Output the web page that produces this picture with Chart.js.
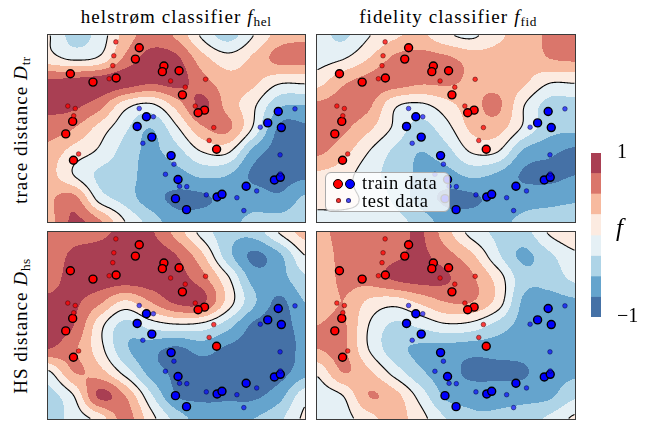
<!DOCTYPE html>
<html>
<head>
<meta charset="utf-8">
<script src="https://cdn.jsdelivr.net/npm/chart.js@4.4.1/dist/chart.umd.min.js"></script>
<style>
body { margin: 0; background: #fff; }
#fig { position: relative; width: 646px; height: 422px; overflow: hidden; font-family: "Liberation Serif", serif; color: #000; }
canvas { position: absolute; }
.title { position: absolute; top: 5px; font-size: 19px; letter-spacing: 1.1px; line-height: 24px; white-space: nowrap; transform: translateX(-50%); }
.rowlab { position: absolute; font-size: 19px; letter-spacing: 1px; line-height: 24px; white-space: nowrap; transform: translate(-50%, -50%) rotate(-90deg); }
sub { font-size: 70%; letter-spacing: 0.5px; vertical-align: -0.25em; line-height: 0; }
#legend { position: absolute; left: 325px; top: 172px; width: 123px; height: 38px; border: 1px solid #aaa; border-radius: 6px; background: rgba(255,255,255,0.8); font-size: 18.5px; letter-spacing: 0.6px; }
#legend .row { position: absolute; left: 36px; line-height: 18px; }
#legend .dot { position: absolute; border-radius: 50%; box-sizing: border-box; }
#flab { position: absolute; left: 616px; top: 214px; font-size: 25px; font-style: italic; }
</style>
</head>
<body>
<div id="fig">
  <div class="title" style="left:176px">helstrøm classifier <i>f</i><sub>hel</sub></div>
  <div class="title" style="left:448px">fidelity classifier <i>f</i><sub>fid</sub></div>
  <div class="rowlab" style="left:21px;top:130px">trace distance <i>D</i><sub>tr</sub></div>
  <div class="rowlab" style="left:21px;top:326px">HS distance <i>D</i><sub>hs</sub></div>
  <canvas id="p1"></canvas>
  <canvas id="p2"></canvas>
  <canvas id="p3"></canvas>
  <canvas id="p4"></canvas>
  <canvas id="cbar"></canvas>
  <div id="flab">f</div>
  <div id="legend">
    <span class="dot" style="left:7px;top:6px;width:10px;height:10px;background:#f00;border:1.4px solid #000"></span>
    <span class="dot" style="left:19px;top:6px;width:10px;height:10px;background:#00f;border:1.4px solid #000"></span>
    <span class="dot" style="left:10px;top:25px;width:5px;height:5px;background:rgba(255,0,0,0.8);border:0.8px solid rgba(0,0,0,0.5)"></span>
    <span class="dot" style="left:20px;top:25px;width:5px;height:5px;background:rgba(0,0,255,0.7);border:0.8px solid rgba(0,0,0,0.5)"></span>
    <div class="row" style="top:1px">train data</div>
    <div class="row" style="top:19px">test data</div>
  </div>
</div>
<script>
// data points (same in all four panels), x and y in [0, 1]
const trainRedX = [0.355, 0.340, 0.451, 0.445, 0.510, 0.087, 0.175, 0.265, 0.523, 0.609, 0.584, 0.096, 0.069, 0.099, 0.656];
const trainRedY = [0.932, 0.871, 0.834, 0.804, 0.809, 0.793, 0.748, 0.770, 0.680, 0.598, 0.584, 0.538, 0.471, 0.330, 0.389];
const testRedX = [0.264, 0.256, 0.252, 0.238, 0.477, 0.534, 0.613, 0.077, 0.106, 0.100, 0.119, 0.573, 0.645, 0.627];
const testRedY = [0.963, 0.889, 0.836, 0.766, 0.754, 0.721, 0.763, 0.620, 0.607, 0.568, 0.364, 0.620, 0.505, 0.436];
const trainBlueX = [0.383, 0.347, 0.404, 0.896, 0.855, 0.908, 0.479, 0.506, 0.496, 0.539, 0.658, 0.677, 0.771, 0.881, 0.904];
const trainBlueY = [0.563, 0.511, 0.454, 0.591, 0.530, 0.505, 0.355, 0.227, 0.125, 0.066, 0.134, 0.148, 0.191, 0.225, 0.239];
const testBlueX = [0.355, 0.410, 0.369, 0.490, 0.457, 0.512, 0.540, 0.616, 0.735, 0.812, 0.762, 0.826, 0.961, 0.903, 0.904];
const testBlueY = [0.607, 0.563, 0.421, 0.309, 0.255, 0.191, 0.189, 0.145, 0.130, 0.166, 0.061, 0.507, 0.605, 0.359, 0.257];

// classifier output f on an 11 x 9 grid (rows top -> bottom, x = 0..1, y = 1..0)
const fieldHelTr = [
  [0.02, -0.35, -0.15, 0.35, 0.6, 0.45, -0.05, -0.35, 0.0, 0.35, 0.45],
  [0.1, -0.05, 0.05, 0.55, 0.85, 0.8, 0.35, 0.1, 0.3, 0.6, 0.6],
  [0.8, 0.85, 0.9, 0.9, 0.8, 0.85, 0.6, 0.35, 0.3, 0.05, 0.05],
  [0.8, 0.8, 0.6, 0.1, -0.05, 0.35, 0.8, 0.4, 0.05, -0.45, -0.5],
  [0.65, 0.5, 0.15, -0.2, -0.5, -0.05, 0.45, 0.55, -0.05, -0.8, -0.8],
  [0.4, 0.15, -0.05, -0.35, -0.55, -0.35, 0.0, 0.03, -0.6, -0.85, -0.85],
  [0.35, 0.0, -0.3, -0.4, -0.6, -0.6, -0.45, -0.5, -0.8, -0.85, -0.8],
  [0.45, 0.6, -0.1, -0.35, -0.65, -0.8, -0.8, -0.65, -0.6, -0.7, -0.45],
  [0.4, 0.8, 0.55, 0.0, -0.35, -0.65, -0.6, -0.55, -0.45, -0.4, -0.35]
];
const fieldFidTr = [
  [-0.15, -0.3, -0.02, 0.2, 0.3, 0.05, -0.05, 0.2, 0.35, 0.55, 0.6],
  [-0.1, -0.02, 0.25, 0.55, 0.6, 0.55, 0.4, 0.35, 0.3, 0.5, 0.55],
  [0.15, 0.45, 0.6, 0.65, 0.55, 0.55, 0.45, 0.4, 0.3, 0.03, 0.03],
  [0.55, 0.6, 0.55, 0.05, -0.05, 0.15, 0.4, 0.55, 0.02, -0.35, -0.35],
  [0.6, 0.55, 0.3, -0.05, -0.35, -0.1, 0.3, 0.35, -0.05, -0.4, -0.45],
  [0.55, 0.35, 0.0, -0.3, -0.5, -0.35, 0.02, 0.0, -0.55, -0.7, -0.8],
  [0.2, 0.1, -0.15, -0.35, -0.55, -0.6, -0.45, -0.55, -0.78, -0.8, -0.75],
  [0.1, 0.05, -0.05, -0.3, -0.6, -0.8, -0.8, -0.65, -0.6, -0.6, -0.55],
  [-0.1, -0.05, -0.05, -0.15, -0.35, -0.6, -0.6, -0.55, -0.45, -0.35, -0.3]
];
const fieldHelHs = [
  [0.6, 0.65, 0.7, 0.8, 0.78, 0.4, -0.1, -0.4, -0.4, 0.02, 0.35],
  [0.6, 0.8, 0.85, 0.9, 0.9, 0.75, 0.3, -0.4, -0.8, -0.55, 0.0],
  [0.65, 0.85, 0.9, 0.9, 0.9, 0.85, 0.6, 0.05, -0.6, -0.6, -0.3],
  [0.8, 0.8, 0.55, 0.2, 0.5, 0.8, 0.8, 0.15, -0.45, -0.8, -0.5],
  [0.8, 0.75, 0.1, -0.35, -0.15, -0.05, -0.1, -0.4, -0.8, -0.85, -0.65],
  [0.75, 0.55, 0.1, -0.45, -0.65, -0.8, -0.65, -0.8, -0.85, -0.85, -0.7],
  [-0.05, 0.5, 0.35, -0.1, -0.6, -0.8, -0.85, -0.85, -0.85, -0.85, -0.6],
  [-0.35, 0.0, 0.8, 0.5, -0.2, -0.75, -0.8, -0.8, -0.8, -0.6, -0.1],
  [-0.4, -0.15, 0.1, 0.6, 0.1, -0.35, -0.6, -0.55, -0.5, -0.3, 0.05]
];
const fieldFidHs = [
  [0.45, 0.55, 0.55, 0.6, 0.78, 0.35, -0.1, -0.3, -0.35, 0.03, 0.2],
  [0.4, 0.55, 0.6, 0.7, 0.8, 0.6, 0.3, -0.2, -0.55, -0.3, -0.05],
  [0.35, 0.55, 0.6, 0.78, 0.85, 0.78, 0.55, 0.15, -0.4, -0.4, -0.2],
  [0.3, 0.5, 0.2, 0.1, 0.3, 0.5, 0.5, 0.15, -0.55, -0.6, -0.55],
  [0.5, 0.55, 0.0, -0.3, -0.2, -0.05, -0.1, -0.35, -0.6, -0.7, -0.6],
  [0.5, 0.55, 0.0, -0.4, -0.55, -0.6, -0.65, -0.65, -0.65, -0.6, -0.55],
  [0.05, 0.5, 0.3, -0.1, -0.45, -0.65, -0.8, -0.8, -0.78, -0.6, -0.55],
  [-0.15, 0.0, 0.5, 0.35, -0.1, -0.55, -0.6, -0.6, -0.6, -0.55, -0.3],
  [-0.2, -0.1, 0.15, 0.35, 0.1, -0.25, -0.45, -0.45, -0.35, -0.2, 0.05]
];

// contour levels and colorbar ticks
const levels = [-1, -0.75, -0.5, -0.25, 0, 0.25, 0.5, 0.75, 1];
const cbarTicks = [-1, 1];
const levelColors = ['#4571a6', '#65a4cd', '#aed4e7', '#e5f0f5', '#fcebe1', '#f7ba9f', '#da766b', '#a93f53'];

function hexRgb(h) {
  return [parseInt(h.slice(1, 3), 16), parseInt(h.slice(3, 5), 16), parseInt(h.slice(5, 7), 16)];
}
const levelRgb = levelColors.map(hexRgb);

function cubic(p0, p1, p2, p3, t) {
  return p1 + 0.5 * t * (p2 - p0 + t * (2 * p0 - 5 * p1 + 4 * p2 - p3 + t * (3 * (p1 - p2) + p3 - p0)));
}

function sampleGrid(grid, gx, gy) {
  const rows = grid.length, cols = grid[0].length;
  const ix = Math.min(Math.max(Math.floor(gx), 0), cols - 2);
  const iy = Math.min(Math.max(Math.floor(gy), 0), rows - 2);
  const tx = gx - ix, ty = gy - iy;
  const at = (r, c) => grid[Math.min(Math.max(r, 0), rows - 1)][Math.min(Math.max(c, 0), cols - 1)];
  const col = [];
  for (let k = -1; k <= 2; k++) {
    const r = iy + k;
    col.push(cubic(at(r, ix - 1), at(r, ix), at(r, ix + 1), at(r, ix + 2), tx));
  }
  return cubic(col[0], col[1], col[2], col[3], ty);
}

function levelIndex(f) {
  for (let i = levels.length - 2; i >= 0; i--) {
    if (f >= levels[i]) return i;
  }
  return 0;
}

// draws the filled contour bands and the f = 0 line under the points
const fieldPlugin = {
  id: 'field',
  beforeDatasetsDraw(chart, args, opts) {
    const grid = opts.grid;
    if (!grid) return;
    const ctx = chart.ctx;
    const area = chart.chartArea;
    const xs = chart.scales.x, ys = chart.scales.y;
    const w = Math.round(area.right - area.left), h = Math.round(area.bottom - area.top);
    const rows = grid.length, cols = grid[0].length;
    const vals = new Float32Array(w * h);
    for (let j = 0; j < h; j++) {
      const v = ys.getValueForPixel(area.top + j + 0.5);
      for (let i = 0; i < w; i++) {
        const u = xs.getValueForPixel(area.left + i + 0.5);
        vals[j * w + i] = sampleGrid(grid, u * (cols - 1), (1 - v) * (rows - 1));
      }
    }
    const off = document.createElement('canvas');
    off.width = w; off.height = h;
    const octx = off.getContext('2d');
    const img = octx.createImageData(w, h);
    for (let k = 0; k < w * h; k++) {
      const c = levelRgb[levelIndex(vals[k])];
      img.data[k * 4] = c[0]; img.data[k * 4 + 1] = c[1]; img.data[k * 4 + 2] = c[2]; img.data[k * 4 + 3] = 255;
    }
    octx.putImageData(img, 0, 0);
    ctx.save();
    ctx.drawImage(off, area.left, area.top);
    // zero contour by marching squares
    ctx.beginPath();
    ctx.rect(area.left, area.top, w, h);
    ctx.clip();
    ctx.beginPath();
    const V = (i, j) => vals[j * w + i];
    const X = (i) => area.left + i + 0.5, Y = (j) => area.top + j + 0.5;
    for (let j = 0; j < h - 1; j++) {
      for (let i = 0; i < w - 1; i++) {
        const a = V(i, j), b = V(i + 1, j), c = V(i + 1, j + 1), d = V(i, j + 1);
        const pts = [];
        if ((a > 0) !== (b > 0)) pts.push([i + a / (a - b), j]);
        if ((b > 0) !== (c > 0)) pts.push([i + 1, j + b / (b - c)]);
        if ((c > 0) !== (d > 0)) pts.push([i + 1 - c / (c - d), j + 1]);
        if ((d > 0) !== (a > 0)) pts.push([i, j + 1 - d / (d - a)]);
        for (let p = 0; p + 1 < pts.length; p += 2) {
          ctx.moveTo(X(pts[p][0]), Y(pts[p][1]));
          ctx.lineTo(X(pts[p + 1][0]), Y(pts[p + 1][1]));
        }
      }
    }
    ctx.strokeStyle = '#000';
    ctx.lineWidth = 1.1;
    ctx.stroke();
    ctx.restore();
  },
  afterDraw(chart) {
    const a = chart.chartArea;
    const ctx = chart.ctx;
    ctx.save();
    ctx.strokeStyle = '#3a3a3a';
    ctx.lineWidth = 1;
    ctx.strokeRect(a.left - 0.5, a.top - 0.5, a.right - a.left + 1, a.bottom - a.top + 1);
    ctx.restore();
  }
};

function pts(xs, ys) {
  return xs.map((x, i) => ({x: x, y: ys[i]}));
}

function makePanel(id, grid, left, top, w, h) {
  const pad = 4;
  const cv = document.getElementById(id);
  cv.width = w + 2 * pad; cv.height = h + 2 * pad;
  cv.style.left = (left - pad) + 'px';
  cv.style.top = (top - pad) + 'px';
  return new Chart(cv, {
    type: 'scatter',
    data: {
      datasets: [
        {data: pts(testRedX, testRedY), backgroundColor: 'rgba(255,0,0,0.75)', borderColor: 'rgba(60,0,0,0.6)', borderWidth: 0.8, pointRadius: 2.3},
        {data: pts(testBlueX, testBlueY), backgroundColor: 'rgba(0,0,255,0.65)', borderColor: 'rgba(0,0,60,0.6)', borderWidth: 0.8, pointRadius: 2.3},
        {data: pts(trainRedX, trainRedY), backgroundColor: '#ff0000', borderColor: '#000', borderWidth: 1.4, pointRadius: 4},
        {data: pts(trainBlueX, trainBlueY), backgroundColor: '#0000ff', borderColor: '#000', borderWidth: 1.4, pointRadius: 4}
      ]
    },
    options: {
      responsive: false,
      animation: false,
      events: [],
      layout: {padding: pad, autoPadding: false},
      scales: {
        x: {type: 'linear', min: 0, max: 1, display: false},
        y: {type: 'linear', min: 0, max: 1, display: false}
      },
      plugins: {legend: {display: false}, tooltip: {enabled: false}, field: {grid: grid}}
    },
    plugins: [fieldPlugin]
  });
}

makePanel('p1', fieldHelTr, 48, 35, 257, 187);
makePanel('p2', fieldFidTr, 317, 35, 258, 187);
makePanel('p3', fieldHelHs, 48, 232, 257, 187);
makePanel('p4', fieldFidHs, 317, 232, 258, 187);

// colorbar: stacked bins from 0 upwards and from 0 downwards
const cbDatasets = [];
for (let i = 4; i < levels.length - 1; i++) {
  cbDatasets.push({data: [levels[i + 1] - levels[i]], backgroundColor: levelColors[i]});
}
for (let i = 3; i >= 0; i--) {
  cbDatasets.push({data: [levels[i] - levels[i + 1]], backgroundColor: levelColors[i]});
}
const cb = document.getElementById('cbar');
cb.width = 55; cb.height = 204;
cb.style.left = '591px'; cb.style.top = '133px';
new Chart(cb, {
  type: 'bar',
  data: {labels: [''], datasets: cbDatasets},
  options: {
    responsive: false,
    animation: false,
    events: [],
    layout: {padding: {top: 10, bottom: 10, left: 0, right: 0}},
    datasets: {bar: {barPercentage: 1, categoryPercentage: 1, borderWidth: 0}},
    scales: {
      x: {stacked: true, display: false},
      y: {
        stacked: true, min: -1, max: 1, position: 'right',
        grid: {display: false}, border: {display: false},
        afterBuildTicks: (s) => { s.ticks = cbarTicks.map(v => ({value: v})); },
        afterFit: (s) => { s.width = 45; },
        ticks: {
          color: '#000', padding: 8,
          font: {family: 'Liberation Serif', size: 20},
          callback: (v) => (v < 0 ? '\u2212' + Math.abs(v) : String(v))
        }
      }
    },
    plugins: {legend: {display: false}, tooltip: {enabled: false}}
  }
});
</script>
</body>
</html>
